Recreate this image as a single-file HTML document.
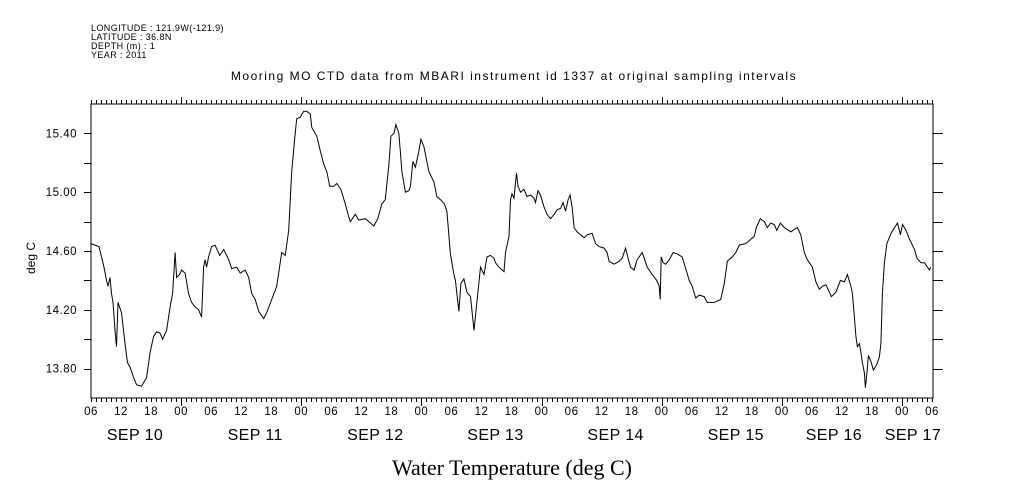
<!DOCTYPE html>
<html><head><meta charset="utf-8"><style>
html,body{margin:0;padding:0;background:#fff;}
svg{display:block;font-family:"Liberation Sans",sans-serif;}
</style></head><body>
<svg id="chart" width="1009" height="504" viewBox="0 0 1009 504" xmlns="http://www.w3.org/2000/svg">
<g font-size="9" letter-spacing="0.4" fill="#000">
<text x="91" y="31">LONGITUDE : 121.9W(-121.9)</text>
<text x="91" y="40">LATITUDE : 36.8N</text>
<text x="91" y="49">DEPTH (m) : 1</text>
<text x="91" y="58">YEAR : 2011</text>
</g>
<text x="514" y="80" text-anchor="middle" font-size="12" letter-spacing="1.5">Mooring MO CTD data from MBARI instrument id 1337 at original sampling intervals</text>
<text transform="translate(35,258) rotate(-90)" text-anchor="middle" font-size="12">deg C</text>
<text x="512" y="475" text-anchor="middle" font-size="22" font-family="'Liberation Serif',serif">Water Temperature (deg C)</text>
<g id="axes"></g>
<path id="line" fill="none" stroke="#000" stroke-width="1"/>
</svg>
<script>
const hours=[0,0.8,1.6,2.1,2.6,3.1,3.4,3.8,4.1,4.4,4.8,5.1,5.4,5.8,6.1,6.8,7.3,7.8,8.5,9.1,10.1,11.1,11.8,12.5,13.1,13.8,14.3,15.1,15.8,16.3,16.8,17.1,17.7,18.1,18.8,19.5,20.1,20.8,21.5,22.1,22.5,22.8,23.1,23.5,24.1,24.8,25.7,26.5,27.5,28.1,29.1,29.8,30.8,31.5,32.1,32.8,33.5,34.5,35.1,36.1,37.1,38.1,38.8,39.5,40.1,40.8,41.1,41.8,42.5,43.1,43.8,44.1,45.1,45.8,46.5,47.1,47.7,48.5,49.1,49.9,50.8,51.5,51.8,52.8,53.5,54.8,55.5,56.5,57.3,58.1,58.8,59.5,59.9,60.5,60.9,61.5,62.1,62.8,63.5,63.8,64.3,64.8,65.5,65.9,66.5,67.5,68.5,69.1,69.8,70.6,71.1,71.8,72.5,72.8,73.5,73.9,74.5,75.1,75.8,76.5,77.1,77.8,78.5,79.1,79.8,80.5,80.8,81.5,82.5,82.8,83.5,83.8,84.1,84.5,85.0,85.3,85.8,86.5,87.1,87.8,88.5,88.8,89.3,89.8,90.5,91.1,91.8,92.5,93.1,93.8,94.3,94.8,95.3,95.7,96.1,96.5,97.1,97.8,98.5,99.1,100.1,100.8,101.5,102.5,103.1,103.5,104.5,105.5,106.1,106.8,107.3,107.8,108.5,109.1,110.1,110.5,111.1,112.1,113.0,113.5,113.7,113.9,114.3,114.8,115.5,116.3,117.1,118.1,118.8,119.5,120.1,120.8,121.5,122.5,123.1,124.5,125.8,126.5,127.1,128.1,128.8,129.5,130.8,131.8,132.5,132.9,133.7,134.5,135.1,135.8,136.5,137.0,137.7,138.5,139.8,141.1,141.8,142.5,143.1,144.1,144.8,145.5,146.1,146.8,147.5,147.9,148.8,149.7,150.5,151.1,151.8,152.1,152.5,152.8,153.1,153.5,153.8,154.1,154.5,154.7,155.0,155.3,155.8,156.3,157.0,157.5,157.8,158.1,158.5,159.0,159.8,160.5,161.1,161.7,162.1,162.8,163.5,164.5,165.0,165.8,166.5,167.5,167.7];
const temps=[14.65,14.64,14.63,14.56,14.49,14.40,14.36,14.42,14.31,14.25,14.06,13.95,14.25,14.21,14.18,13.97,13.84,13.81,13.74,13.69,13.68,13.74,13.91,14.02,14.05,14.04,14.00,14.06,14.22,14.31,14.59,14.42,14.44,14.47,14.45,14.31,14.25,14.22,14.20,14.15,14.49,14.54,14.49,14.56,14.63,14.64,14.57,14.61,14.54,14.48,14.49,14.45,14.47,14.42,14.31,14.27,14.19,14.14,14.18,14.27,14.36,14.59,14.57,14.74,15.14,15.40,15.50,15.51,15.55,15.55,15.53,15.44,15.38,15.28,15.19,15.14,15.04,15.04,15.06,15.02,14.92,14.83,14.80,14.85,14.81,14.82,14.80,14.77,14.82,14.92,14.95,15.19,15.38,15.40,15.46,15.40,15.14,15.00,15.01,15.04,15.21,15.17,15.28,15.36,15.31,15.14,15.07,14.97,14.95,14.92,14.87,14.58,14.44,14.40,14.19,14.38,14.41,14.32,14.29,14.06,14.26,14.49,14.44,14.56,14.57,14.55,14.52,14.49,14.46,14.59,14.70,14.95,14.99,14.96,15.13,15.04,15.00,15.02,14.97,14.98,14.96,14.93,15.01,14.98,14.90,14.85,14.82,14.85,14.88,14.89,14.93,14.87,14.95,14.98,14.90,14.76,14.73,14.71,14.69,14.71,14.72,14.65,14.63,14.62,14.59,14.53,14.51,14.53,14.55,14.62,14.55,14.49,14.47,14.54,14.59,14.55,14.49,14.44,14.40,14.36,14.27,14.56,14.52,14.51,14.54,14.59,14.58,14.56,14.48,14.40,14.36,14.28,14.30,14.29,14.25,14.25,14.27,14.38,14.53,14.56,14.59,14.64,14.65,14.68,14.70,14.76,14.82,14.80,14.76,14.79,14.78,14.74,14.79,14.76,14.73,14.76,14.71,14.59,14.54,14.49,14.39,14.34,14.36,14.37,14.32,14.29,14.32,14.40,14.39,14.44,14.36,14.31,14.15,14.02,13.95,13.97,13.91,13.84,13.77,13.67,13.77,13.89,13.85,13.79,13.83,13.88,13.97,14.31,14.52,14.65,14.72,14.76,14.79,14.71,14.78,14.74,14.68,14.61,14.55,14.52,14.52,14.47,14.49];
const yTickLabels=["13.80","14.20","14.60","15.00","15.40"];
const hourLabels=["06","12","18","00"];
const dayLabels=["SEP 10","SEP 11","SEP 12","SEP 13","SEP 14","SEP 15","SEP 16","SEP 17"];

const L=91,R=932,T=104,B=398,H0=0,H1=168,V0=13.6,V1=15.6;
function xs(h){return L+(h-H0)/(H1-H0)*(R-L);}
function ys(v){return B-(v-V0)/(V1-V0)*(B-T);}
const NS="http://www.w3.org/2000/svg";
const ax=document.getElementById('axes');
function mk(tag,attrs){const e=document.createElementNS(NS,tag);for(const k in attrs)e.setAttribute(k,attrs[k]);ax.appendChild(e);return e;}
let d=`M${L} ${T}H${R+1}V${B}H${L}Z`;
let f=mk('path',{d:d,fill:'none',stroke:'#000','stroke-width':1});


let td='';
for(let h=0;h<=168;h++){
  const x=Math.round(xs(h))+0.5;
  const isDay=(h%24)===18;
  td+=`M${x} ${B}v${isDay?8:4}M${x} ${T}v${isDay?-7:-4}`;
}
for(let v=13.8;v<=15.41;v+=0.2){
  const y=Math.round(ys(v))+0.5;
  td+=`M${L-7} ${y}H${L}M${R+1} ${y}h10`;
}
let tk=mk('path',{d:td,fill:'none',stroke:'#000','stroke-width':1});


yTickLabels.forEach(s=>{
  const t=mk('text',{x:L-14,y:ys(parseFloat(s))+4,'text-anchor':'end','font-size':11.5,'letter-spacing':0.5});
  
  
  t.textContent=s;
});
for(let i=0;i<=28;i++){
  const t=mk('text',{x:xs(i*6),y:415,'text-anchor':'middle','font-size':11.5,'letter-spacing':0.5});
  
  
  t.textContent=hourLabels[i%4];
}
dayLabels.forEach((s,i)=>{
  let h=i*24+8.8;
  if(i===6)h=i*24+4.4;
  if(i===7)h=i*24-3.8;
  const t=mk('text',{x:xs(h),y:440,'text-anchor':'middle','font-size':16,'letter-spacing':0.4});
  
  
  t.textContent=s;
});
let p='';
hours.forEach((h,i)=>{p+=(i?'L':'M')+xs(h).toFixed(1)+' '+ys(temps[i]).toFixed(1);});
document.getElementById('line').setAttribute('d',p);
</script>
</body></html>
